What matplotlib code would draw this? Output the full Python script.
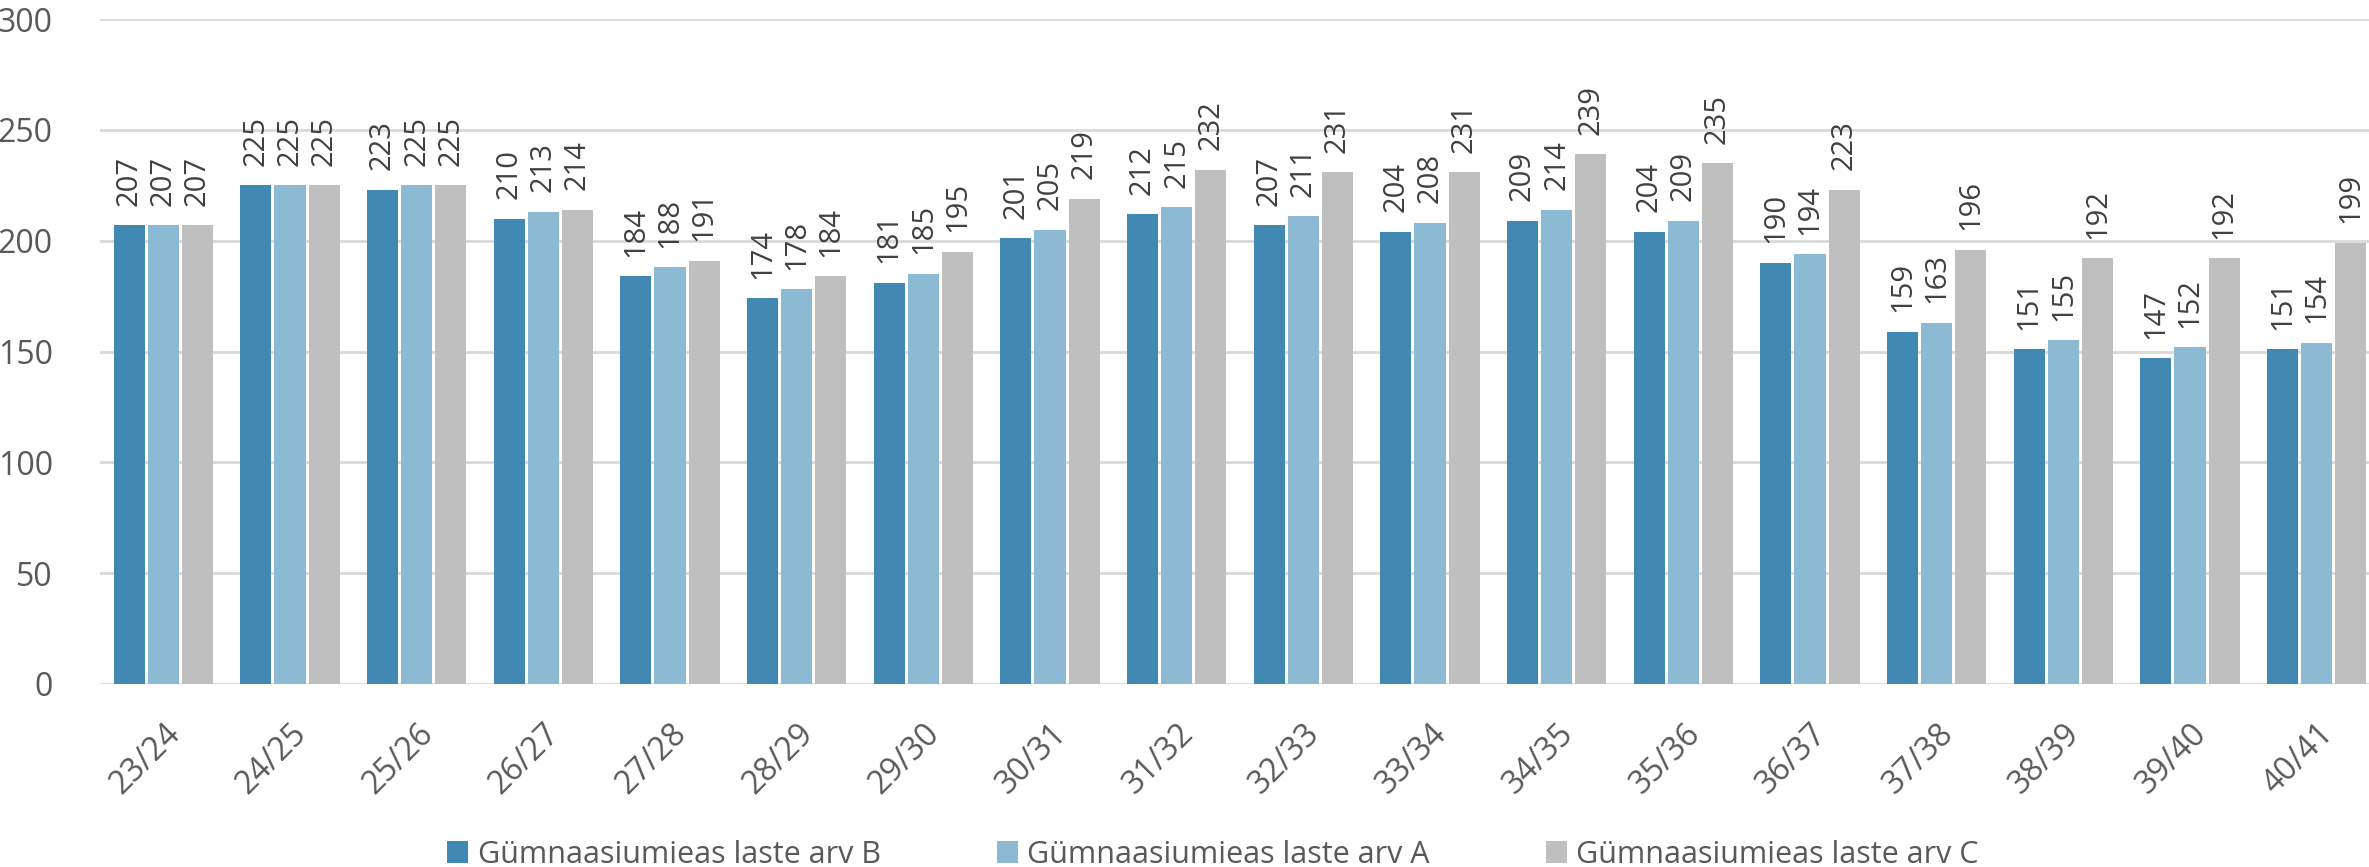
import numpy as np
import matplotlib as mpl
mpl.use('Agg')
import matplotlib.pyplot as plt

plt.rcParams['font.family'] = ['Open Sans', 'DejaVu Sans']

years = ['23/24', '24/25', '25/26', '26/27', '27/28', '28/29', '29/30', '30/31',
         '31/32', '32/33', '33/34', '34/35', '35/36', '36/37', '37/38', '38/39',
         '39/40', '40/41']
val_b = [207, 225, 223, 210, 184, 174, 181, 201, 212, 207, 204, 209, 204, 190,
         159, 151, 147, 151]
val_a = [207, 225, 225, 213, 188, 178, 185, 205, 215, 211, 208, 214, 209, 194,
         163, 155, 152, 154]
val_c = [207, 225, 225, 214, 191, 184, 195, 219, 232, 231, 231, 239, 235, 223,
         196, 192, 192, 199]
names = ['Gümnaasiumieas laste arv B', 'Gümnaasiumieas laste arv A',
         'Gümnaasiumieas laste arv C']
colours = ['#4189B3', '#8CB9D4', '#BFBFBF']

W, H = 2369, 867
dpi = 100
fig = plt.figure(figsize=(W / dpi, H / dpi), dpi=dpi)
# plot area runs a little past the right edge, like the original crop
ax = fig.add_axes([100 / W, (H - 684) / H, 2280 / W, 665 / H])

x = np.arange(len(years))
bw = 0.245
step = 0.27
for i, (vals, c, n) in enumerate(zip([val_b, val_a, val_c], colours, names)):
    bars = ax.bar(x + (i - 1) * step, vals, width=bw, color=c, label=n,
                  zorder=3)
    ax.bar_label(bars, labels=[str(v) for v in vals], rotation=90,
                 padding=14, fontsize=21, color='#404040')

ax.set_xlim(-0.5, len(years) - 0.5)
ax.set_ylim(0, 300)
ax.set_yticks(np.arange(0, 301, 50))
ax.grid(axis='y', color='#D9D9D9', linewidth=2, zorder=0)
for s in ax.spines.values():
    s.set_visible(False)
ax.tick_params(axis='both', length=0, labelsize=23, colors='#595959')
ax.tick_params(axis='y', pad=34)
ax.set_xticks(x)
ax.set_xticklabels(years, rotation=45, ha='right', rotation_mode='anchor')
ax.tick_params(axis='x', pad=24)

fig.legend(loc='lower center', bbox_to_anchor=(0.512, -0.035), ncol=3,
           frameon=False, fontsize=22, handlelength=0.7, handleheight=0.7,
           handletextpad=0.3, columnspacing=3.8, labelcolor='#595959')

fig.savefig('out.png', dpi=dpi)
